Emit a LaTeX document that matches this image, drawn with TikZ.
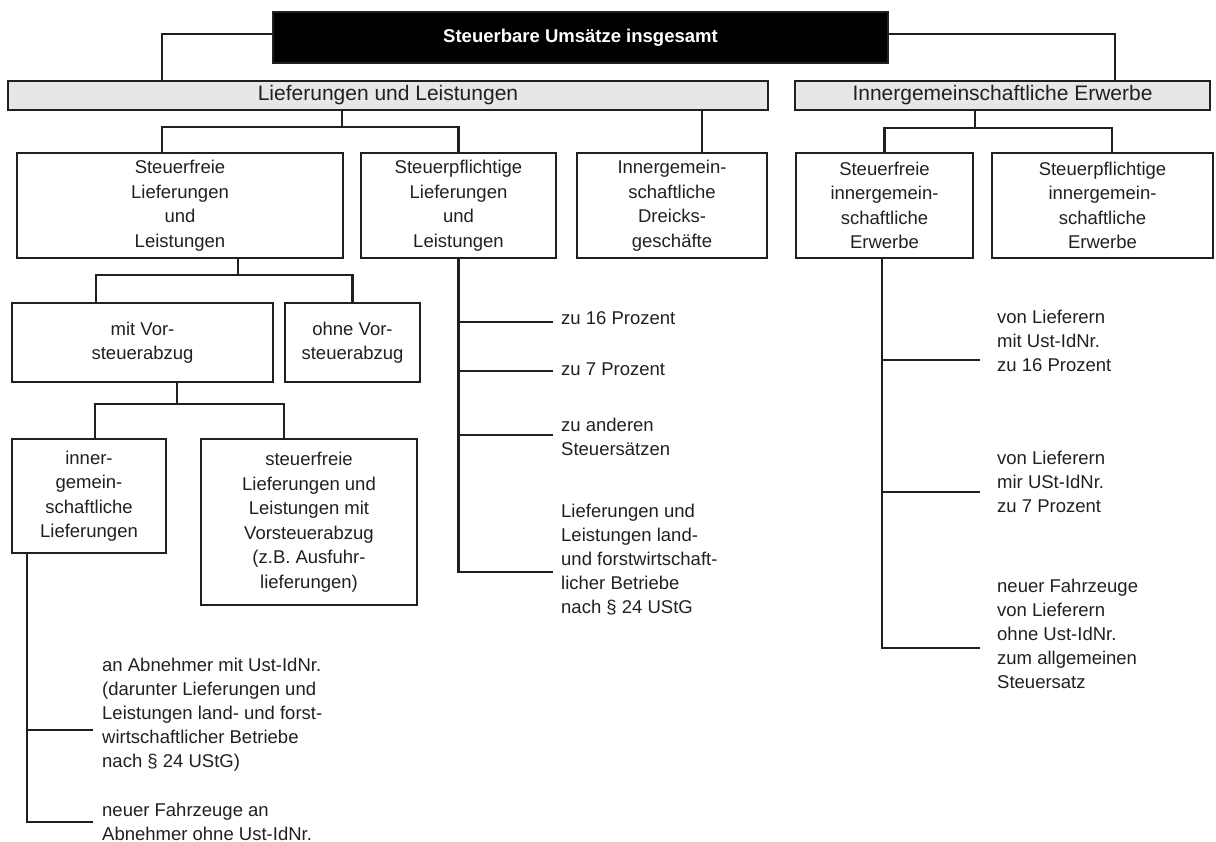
\documentclass[tikz,border=0pt]{standalone}
\usepackage{fontspec}
\setmainfont{Liberation Sans}
\usepackage{tikz}
\definecolor{linegray}{RGB}{35,31,32}
\definecolor{bargray}{RGB}{230,231,232}
\tikzstyle{block} = [rectangle, draw=linegray, line width=2.6pt, text=linegray,
align=center, inner sep=0pt, font=\fontsize{18.5}{24.5}\selectfont]
\tikzstyle{bar} = [rectangle, draw=linegray, fill=bargray, line width=2.6pt, text=linegray,
inner sep=0pt, minimum height=29pt, font=\fontsize{21}{25}\selectfont]
\tikzstyle{topblock} = [rectangle, draw=linegray, fill=black, text=white, line width=1.5pt,
minimum width=615pt, minimum height=51pt, font=\bfseries\fontsize{18.5}{22}\selectfont]
\tikzstyle{leaf} = [anchor=west, inner sep=0pt, align=left, text=linegray,
font=\fontsize{18.5}{24}\selectfont]
\tikzstyle{line} = [draw=linegray, line width=2.6pt]

\begin{document}
\begin{tikzpicture}[x=1pt, y=-1pt]
	\useasboundingbox (0,0) rectangle (1216,842);
	\node [topblock] (total) at (580.5,37.5) {Steuerbare Umsätze insgesamt};
	\node [bar, minimum width=760pt] (liefer) at (388,95.5) {Lieferungen und Leistungen};
	\node [bar, minimum width=415pt] (erwerb) at (1002.5,95.5) {Innergemeinschaftliche Erwerbe};
	\node [block, minimum width=326pt, minimum height=105pt] (sfrei) at (180,205.5) {Steuerfreie\\Lieferungen\\und\\Leistungen};
	\node [block, minimum width=195pt, minimum height=105pt] (spfl) at (458.5,205.5) {Steuerpflichtige\\Lieferungen\\und\\Leistungen};
	\node [block, minimum width=190pt, minimum height=105pt] (dreieck) at (672,205.5) {Innergemein-\\schaftliche\\Dreicks-\\geschäfte};
	\node [block, minimum width=177pt, minimum height=105pt] (sfie) at (884.5,205.5) {Steuerfreie\\innergemein-\\schaftliche\\Erwerbe};
	\node [block, minimum width=221pt, minimum height=105pt] (spie) at (1102.5,205.5) {Steuerpflichtige\\innergemein-\\schaftliche\\Erwerbe};
	\node [block, minimum width=261pt, minimum height=79pt] (mitvst) at (142.5,342.5) {mit Vor-\\steuerabzug};
	\node [block, minimum width=135pt, minimum height=79pt] (ohnevst) at (352.5,342.5) {ohne Vor-\\steuerabzug};
	\node [block, minimum width=154pt, minimum height=114pt] (ignl) at (89,496) {inner-\\gemein-\\schaftliche\\Lieferungen};
	\node [block, minimum width=216pt, minimum height=166pt] (sfvst) at (309,522) {steuerfreie\\Lieferungen und\\Leistungen mit\\Vorsteuerabzug\\(z.B. Ausfuhr-\\lieferungen)};
	
	\node [leaf] (s16) at (561,318) {zu 16 Prozent};
	\node [leaf] (s7) at (561,369) {zu 7 Prozent};
	\node [leaf] (sand) at (561,436.5) {zu anderen\\Steuersätzen};
	\node [leaf] (slf) at (561,560) {Lieferungen und\\Leistungen land-\\und forstwirtschaft-\\licher Betriebe\\nach § 24 UStG};
	\node [leaf] (e16) at (997,341) {von Lieferern\\mit Ust-IdNr.\\zu 16 Prozent};
	\node [leaf] (e7) at (997,482) {von Lieferern\\mir USt-IdNr.\\zu 7 Prozent};
	\node [leaf] (eneu) at (997,634) {neuer Fahrzeuge\\von Lieferern\\ohne Ust-IdNr.\\zum allgemeinen\\Steuersatz};
	\node [leaf] (aab) at (102,715) {an Abnehmer mit Ust-IdNr.\\(darunter Lieferungen und\\Leistungen land- und forst-\\wirtschaftlicher Betriebe\\nach § 24 UStG)};
	\node [leaf] (aneu) at (102,821.5) {neuer Fahrzeuge an\\Abnehmer ohne Ust-IdNr.};
	
	\path [line] ([yshift=3.5pt]total.west) -| ([xshift=-226pt]liefer.north);
	\path [line] ([yshift=3.5pt]total.east) -| ([xshift=112.5pt]erwerb.north);
	
	\coordinate (f1) at (342,127);
	\path [line] (liefer.south -| f1) -- (f1);
	\path [line] ([xshift=-18pt]sfrei.north) |- (f1) -| (spfl.north);
	\path [line] ([xshift=30pt]dreieck.north) -- ([xshift=30pt]dreieck.north |- liefer.south);
	
	\coordinate (f2) at (975,128);
	\path [line] (erwerb.south -| f2) -- (f2);
	\path [line] (sfie.north) |- (f2) -| ([xshift=9.5pt]spie.north);
	
	\coordinate (f3) at (238,275);
	\path [line] (sfrei.south -| f3) -- (f3);
	\path [line] ([xshift=-46.5pt]mitvst.north) |- (f3) -| (ohnevst.north);
	
	\coordinate (f4) at (177,404);
	\path [line] (mitvst.south -| f4) -- (f4);
	\path [line] ([xshift=6pt]ignl.north) |- (f4) -| ([xshift=-25pt]sfvst.north);
	
	\coordinate (b1) at (553,322);
	\coordinate (b2) at (553,371);
	\coordinate (b3) at (553,435);
	\coordinate (b4) at (553,572);
	\path [line] (spfl.south) |- (b4);
	\path [line] (b1) -- (spfl.south |- b1);
	\path [line] (b2) -- (spfl.south |- b2);
	\path [line] (b3) -- (spfl.south |- b3);
	
	\coordinate (c1) at (980,360);
	\coordinate (c2) at (980,492);
	\coordinate (c3) at (980,648);
	\path [line] ([xshift=-2.5pt]sfie.south) |- (c3);
	\path [line] (c1) -- ([xshift=-2.5pt]sfie.south |- c1);
	\path [line] (c2) -- ([xshift=-2.5pt]sfie.south |- c2);
	
	\coordinate (a1) at (93,730);
	\coordinate (a2) at (93,822);
	\path [line] ([xshift=-62pt]ignl.south) |- (a2);
	\path [line] (a1) -- ([xshift=-62pt]ignl.south |- a1);
	
\end{tikzpicture}
\end{document}
